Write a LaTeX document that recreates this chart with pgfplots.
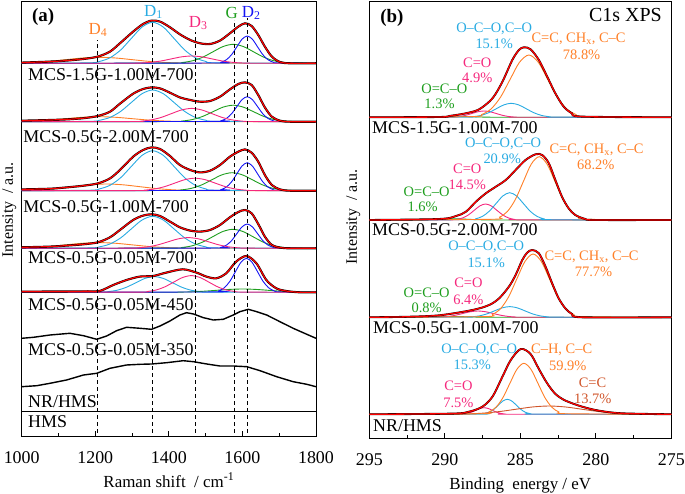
\documentclass[border=0pt]{standalone}
\usepackage{fontspec}
\setmainfont{Liberation Serif}
\usepackage{pgfplots}
\pgfplotsset{compat=1.18}
\definecolor{cCy}{HTML}{29ABE2}
\definecolor{cOr}{HTML}{FF7F27}
\definecolor{cPk}{HTML}{F5287D}
\definecolor{cGr}{HTML}{1E9E1E}
\definecolor{cBl}{HTML}{1515F5}
\definecolor{cRd}{HTML}{FF0000}
\definecolor{cBr}{HTML}{D0552A}
\newcommand{\ann}{\fontsize{14.5}{16}\selectfont}
\newcommand{\lab}{\fontsize{18}{20}\selectfont}
\pgfplotsset{
  comp/.style={smooth, line width=0.9bp, mark=none},
  fitl/.style={smooth, line width=1.2bp, cRd, mark=none, preaction={draw=black, line width=2.1bp}},
  fitb/.style={smooth, line width=1.3bp, cRd, mark=none, preaction={draw=black, line width=1.9bp}},
  raw/.style={line width=1.4bp, black, mark=none},
  vline/.style={black, line width=1bp, dash pattern=on 4bp off 3bp, mark=none},
  common/.style={scale only axis, anchor=south west, ytick=\empty, tick align=inside,
    xtick pos=bottom, major tick length=4.5bp, minor tick length=2.5bp,
    axis line style={line width=0.9bp}, every tick/.style={black, line width=0.8bp},
    /pgf/number format/assume math mode=true, /pgf/number format/set thousands separator={},
    every x tick label/.style={font=\fontsize{18}{20}\selectfont, anchor=north, inner sep=0pt, yshift=-15bp},
    every axis x label/.style={at={(axis description cs:0.5,0)}, anchor=base, yshift=-51bp, font=\fontsize{17}{20}\selectfont},
    table/row sep=\\},
}
\begin{document}
\begin{tikzpicture}
\path[use as bounding box] (0bp,0bp) rectangle (685bp,494bp);
%==================== (a) ====================
\begin{axis}[common, at={(21.7bp,58bp)}, width=294.3bp, height=435bp,
  xmin=1000, xmax=1800, ymin=0, ymax=435,
  xtick={1000,1200,1400,1600,1800}, minor xtick={1100,1300,1500,1700},
  xlabel={Raman shift\ \ / cm\textsuperscript{-1}},
  ylabel={Intensity\ \ / a.u.},
  every axis y label/.style={at={(axis description cs:0,0.52)}, xshift=-19.7bp, rotate=90, anchor=north, inner sep=0pt, font=\fontsize{16}{18}\selectfont}]
% ---- S1 (MCS-1.5G-1.00M-700)
\addplot[comp, cOr] table[y expr=\thisrow{y}+372.7] {x y\\ 940 0.07\\ 985 0.26\\ 1030 0.81\\ 1075 1.95\\ 1120 3.64\\ 1165 5.3\\ 1210 6\\ 1255 5.3\\ 1300 3.64\\ 1345 1.95\\ 1390 0.81\\ 1435 0.26\\ 1480 0.07\\ 1800 0\\};
\addplot[comp, cCy] table[y expr=\thisrow{y}+372.7] {x y\\ 1000 0\\ 1182 0.46\\ 1211 1.8\\ 1240 5.55\\ 1269 13.31\\ 1298 24.87\\ 1327 36.18\\ 1356 41\\ 1385 36.18\\ 1414 24.87\\ 1443 13.31\\ 1472 5.55\\ 1501 1.8\\ 1530 0.46\\ 1800 0\\};
\addplot[comp, cGr] table[y expr=\thisrow{y}+372.7] {x y\\ 1000 0\\ 1410 0.21\\ 1437.5 0.83\\ 1465 2.57\\ 1492.5 6.17\\ 1520 11.52\\ 1547.5 16.77\\ 1575 19\\ 1602.5 16.77\\ 1630 11.52\\ 1657.5 6.17\\ 1685 2.57\\ 1712.5 0.83\\ 1740 0.21\\ 1800 0\\};
\addplot[comp, cBl] table[y expr=\thisrow{y}+372.7] {x y\\ 1000 0\\ 1529 0.3\\ 1543 1.2\\ 1557 3.69\\ 1571 8.86\\ 1585 16.56\\ 1599 24.09\\ 1613 27.3\\ 1627 24.09\\ 1641 16.56\\ 1655 8.86\\ 1669 3.69\\ 1683 1.2\\ 1697 0.3\\ 1800 0\\};
\addplot[comp, cPk] table[y expr=\thisrow{y}+372.7] {x y\\ 1000 0\\ 1297 0.08\\ 1324.5 0.32\\ 1352 0.99\\ 1379.5 2.37\\ 1407 4.43\\ 1434.5 6.44\\ 1462 7.3\\ 1489.5 6.44\\ 1517 4.43\\ 1544.5 2.37\\ 1572 0.99\\ 1599.5 0.32\\ 1627 0.08\\ 1800 0\\};
\addplot[fitl] table[y expr=\thisrow{y}+372.7] {x y\\ 1000 0.7\\ 1077 1.7\\ 1122 2.7\\ 1168 4.3\\ 1207 6.7\\ 1240 11.7\\ 1267 20\\ 1303 31.7\\ 1330 39.3\\ 1353 42.7\\ 1376 41.7\\ 1403 36\\ 1430 29\\ 1458 23.3\\ 1485 20\\ 1512 19.3\\ 1539 22.7\\ 1566 30\\ 1589 36.7\\ 1607 40\\ 1625 37.3\\ 1643 28.3\\ 1661 16.7\\ 1680 6.7\\ 1702 1.3\\ 1729 0\\ 1800 0\\};
% ---- S2 (MCS-0.5G-2.00M-700)
\addplot[comp, cOr] table[y expr=\thisrow{y}+314.3] {x y\\ 940 0.06\\ 985 0.22\\ 1030 0.68\\ 1075 1.62\\ 1120 3.03\\ 1165 4.41\\ 1210 5\\ 1255 4.41\\ 1300 3.03\\ 1345 1.62\\ 1390 0.68\\ 1435 0.22\\ 1480 0.06\\ 1800 0\\};
\addplot[comp, cCy] table[y expr=\thisrow{y}+314.3] {x y\\ 1000 0\\ 1182 0.35\\ 1211 1.39\\ 1240 4.29\\ 1269 10.29\\ 1298 19.23\\ 1327 27.97\\ 1356 31.7\\ 1385 27.97\\ 1414 19.23\\ 1443 10.29\\ 1472 4.29\\ 1501 1.39\\ 1530 0.35\\ 1800 0\\};
\addplot[comp, cGr] table[y expr=\thisrow{y}+314.3] {x y\\ 1000 0\\ 1410 0.18\\ 1437.5 0.72\\ 1465 2.23\\ 1492.5 5.36\\ 1520 10.01\\ 1547.5 14.56\\ 1575 16.5\\ 1602.5 14.56\\ 1630 10.01\\ 1657.5 5.36\\ 1685 2.23\\ 1712.5 0.72\\ 1740 0.18\\ 1800 0\\};
\addplot[comp, cBl] table[y expr=\thisrow{y}+314.3] {x y\\ 1000 0\\ 1529 0.28\\ 1543 1.1\\ 1557 3.38\\ 1571 8.12\\ 1585 15.16\\ 1599 22.06\\ 1613 25\\ 1627 22.06\\ 1641 15.16\\ 1655 8.12\\ 1669 3.38\\ 1683 1.1\\ 1697 0.28\\ 1800 0\\};
\addplot[comp, cPk] table[y expr=\thisrow{y}+314.3] {x y\\ 1000 0\\ 1297 0.15\\ 1324.5 0.58\\ 1352 1.8\\ 1379.5 4.32\\ 1407 8.07\\ 1434.5 11.74\\ 1462 13.3\\ 1489.5 11.74\\ 1517 8.07\\ 1544.5 4.32\\ 1572 1.8\\ 1599.5 0.58\\ 1627 0.15\\ 1800 0\\};
\addplot[fitl] table[y expr=\thisrow{y}+314.3] {x y\\ 1000 1\\ 1077 1.7\\ 1122 2.3\\ 1168 3.5\\ 1207 5.7\\ 1240 10\\ 1267 18\\ 1303 28\\ 1330 32.7\\ 1353 34.3\\ 1376 33.3\\ 1403 29\\ 1430 24.3\\ 1458 21.7\\ 1485 20\\ 1512 20.7\\ 1539 25\\ 1566 32.3\\ 1589 37.7\\ 1607 39.3\\ 1625 36.7\\ 1643 26.7\\ 1661 14.3\\ 1680 5\\ 1702 1\\ 1729 0\\ 1800 0\\};
% ---- S3 (MCS-0.5G-1.00M-700)
\addplot[comp, cOr] table[y expr=\thisrow{y}+245.3] {x y\\ 960 0.07\\ 1005 0.29\\ 1050 0.91\\ 1095 2.18\\ 1140 4.06\\ 1185 5.91\\ 1230 6.7\\ 1275 5.91\\ 1320 4.06\\ 1365 2.18\\ 1410 0.91\\ 1455 0.29\\ 1500 0.07\\ 1800 0\\};
\addplot[comp, cCy] table[y expr=\thisrow{y}+245.3] {x y\\ 1000 0\\ 1182 0.44\\ 1211 1.76\\ 1240 5.41\\ 1269 12.99\\ 1298 24.26\\ 1327 35.3\\ 1356 40\\ 1385 35.3\\ 1414 24.26\\ 1443 12.99\\ 1472 5.41\\ 1501 1.76\\ 1530 0.44\\ 1800 0\\};
\addplot[comp, cGr] table[y expr=\thisrow{y}+245.3] {x y\\ 1000 0\\ 1407 0.2\\ 1434.5 0.79\\ 1462 2.44\\ 1489.5 5.84\\ 1517 10.92\\ 1544.5 15.89\\ 1572 18\\ 1599.5 15.89\\ 1627 10.92\\ 1654.5 5.84\\ 1682 2.44\\ 1709.5 0.79\\ 1737 0.2\\ 1800 0\\};
\addplot[comp, cBl] table[y expr=\thisrow{y}+245.3] {x y\\ 1000 0\\ 1529 0.31\\ 1543 1.23\\ 1557 3.79\\ 1571 9.09\\ 1585 16.98\\ 1599 24.71\\ 1613 28\\ 1627 24.71\\ 1641 16.98\\ 1655 9.09\\ 1669 3.79\\ 1683 1.23\\ 1697 0.31\\ 1800 0\\};
\addplot[comp, cPk] table[y expr=\thisrow{y}+245.3] {x y\\ 1000 0\\ 1306 0.14\\ 1333.5 0.55\\ 1361 1.69\\ 1388.5 4.06\\ 1416 7.58\\ 1443.5 11.03\\ 1471 12.5\\ 1498.5 11.03\\ 1526 7.58\\ 1553.5 4.06\\ 1581 1.69\\ 1608.5 0.55\\ 1636 0.14\\ 1800 0\\};
\addplot[fitl] table[y expr=\thisrow{y}+245.3] {x y\\ 1000 1.3\\ 1077 2\\ 1122 3.3\\ 1168 5\\ 1207 7.3\\ 1240 12.3\\ 1267 20.7\\ 1303 34\\ 1330 40.7\\ 1353 43.3\\ 1376 41.7\\ 1403 34.7\\ 1430 25.7\\ 1458 20.7\\ 1485 18.3\\ 1512 20\\ 1539 25.7\\ 1566 34\\ 1589 39\\ 1607 41.3\\ 1625 38\\ 1643 29\\ 1661 15.7\\ 1680 5.7\\ 1702 1.3\\ 1729 0\\ 1800 0\\};
% ---- S4 (MCS-0.5G-0.05M-700)
\addplot[comp, cOr] table[y expr=\thisrow{y}+187.7] {x y\\ 940 0.06\\ 985 0.25\\ 1030 0.77\\ 1075 1.85\\ 1120 3.46\\ 1165 5.03\\ 1210 5.7\\ 1255 5.03\\ 1300 3.46\\ 1345 1.85\\ 1390 0.77\\ 1435 0.25\\ 1480 0.06\\ 1800 0\\};
\addplot[comp, cCy] table[y expr=\thisrow{y}+187.7] {x y\\ 1000 0\\ 1182 0.36\\ 1211 1.4\\ 1240 4.33\\ 1269 10.39\\ 1298 19.41\\ 1327 28.24\\ 1356 32\\ 1385 28.24\\ 1414 19.41\\ 1443 10.39\\ 1472 4.33\\ 1501 1.4\\ 1530 0.36\\ 1800 0\\};
\addplot[comp, cGr] table[y expr=\thisrow{y}+187.7] {x y\\ 1000 0\\ 1409 0.21\\ 1436.5 0.83\\ 1464 2.57\\ 1491.5 6.17\\ 1519 11.52\\ 1546.5 16.77\\ 1574 19\\ 1601.5 16.77\\ 1629 11.52\\ 1656.5 6.17\\ 1684 2.57\\ 1711.5 0.83\\ 1739 0.21\\ 1800 0\\};
\addplot[comp, cBl] table[y expr=\thisrow{y}+187.7] {x y\\ 1000 0\\ 1529 0.27\\ 1543 1.07\\ 1557 3.29\\ 1571 7.89\\ 1585 14.74\\ 1599 21.44\\ 1613 24.3\\ 1627 21.44\\ 1641 14.74\\ 1655 7.89\\ 1669 3.29\\ 1683 1.07\\ 1697 0.27\\ 1800 0\\};
\addplot[comp, cPk] table[y expr=\thisrow{y}+187.7] {x y\\ 1000 0\\ 1288 0.12\\ 1315.5 0.47\\ 1343 1.45\\ 1370.5 3.47\\ 1398 6.49\\ 1425.5 9.44\\ 1453 10.7\\ 1480.5 9.44\\ 1508 6.49\\ 1535.5 3.47\\ 1563 1.45\\ 1590.5 0.47\\ 1618 0.12\\ 1800 0\\};
\addplot[fitl] table[y expr=\thisrow{y}+187.7] {x y\\ 1000 1\\ 1077 1.7\\ 1122 2.7\\ 1168 4\\ 1207 6\\ 1240 11\\ 1267 18.3\\ 1303 28.3\\ 1330 32.7\\ 1353 34\\ 1376 32.3\\ 1403 26.7\\ 1430 21\\ 1458 17.7\\ 1485 16.7\\ 1512 18.3\\ 1539 23.3\\ 1566 31\\ 1589 36.3\\ 1607 38.3\\ 1625 35\\ 1643 24.3\\ 1661 11.7\\ 1680 3.3\\ 1702 0.7\\ 1729 0\\ 1800 0\\};
% ---- S5 (MCS-0.5G-0.05M-450)
\addplot[comp, cCy] table[y expr=\thisrow{y}+143.7] {x y\\ 1000 0\\ 1210 0.17\\ 1235 0.69\\ 1260 2.12\\ 1285 5.1\\ 1310 9.52\\ 1335 13.86\\ 1360 15.7\\ 1385 13.86\\ 1410 9.52\\ 1435 5.1\\ 1460 2.12\\ 1485 0.69\\ 1510 0.17\\ 1800 0\\};
\addplot[comp, cGr] table[y expr=\thisrow{y}+143.7] {x y\\ 1000 0\\ 1390 0.04\\ 1425 0.14\\ 1460 0.45\\ 1495 1.07\\ 1530 2\\ 1565 2.91\\ 1600 3.3\\ 1635 2.91\\ 1670 2\\ 1705 1.07\\ 1740 0.45\\ 1775 0.14\\ 1800 0.05\\};
\addplot[comp, cBl] table[y expr=\thisrow{y}+143.7] {x y\\ 1000 0\\ 1521 0.38\\ 1536 1.49\\ 1551 4.6\\ 1566 11.04\\ 1581 20.62\\ 1596 30\\ 1611 34\\ 1626 30\\ 1641 20.62\\ 1656 11.04\\ 1671 4.6\\ 1686 1.49\\ 1701 0.38\\ 1800 0\\};
\addplot[comp, cPk] table[y expr=\thisrow{y}+143.7] {x y\\ 1000 0\\ 1317 0.19\\ 1341 0.73\\ 1365 2.26\\ 1389 5.42\\ 1413 10.13\\ 1437 14.74\\ 1461 16.7\\ 1485 14.74\\ 1509 10.13\\ 1533 5.42\\ 1557 2.26\\ 1581 0.73\\ 1605 0.19\\ 1800 0\\};
\addplot[fitl] table[y expr=\thisrow{y}+143.7] {x y\\ 1000 0.7\\ 1100 0.8\\ 1180 1\\ 1212 1.3\\ 1249 7.3\\ 1285 12.3\\ 1321 15.7\\ 1357 16.3\\ 1393 19.7\\ 1438 23\\ 1475 19.7\\ 1502 15.7\\ 1529 14\\ 1556 19\\ 1583 30.7\\ 1611 36.3\\ 1638 29\\ 1665 12.3\\ 1692 4\\ 1719 1.3\\ 1755 0\\ 1800 0\\};
% ---- raw spectra
\addplot[raw] table {x y\\ 1000 97.7\\ 1032 98.7\\ 1077 101\\ 1131 102.7\\ 1168 100.3\\ 1204 96.7\\ 1231 100\\ 1258 105.3\\ 1285 108.7\\ 1322 107.7\\ 1353 106.7\\ 1376 110\\ 1403 115\\ 1430 121\\ 1448 123.3\\ 1467 122\\ 1494 118.3\\ 1521 116\\ 1548 116.7\\ 1575 121\\ 1593 124.3\\ 1616 126.7\\ 1639 124.3\\ 1666 121\\ 1702 114.3\\ 1738 107.7\\ 1775 101.7\\ 1800 97.7\\};
\addplot[raw] table {x y\\ 1000 49.3\\ 1041 50.3\\ 1077 52.7\\ 1122 56\\ 1168 61\\ 1204 62.7\\ 1240 67.7\\ 1285 71\\ 1322 71.7\\ 1353 72\\ 1394 73.3\\ 1439 75.3\\ 1467 74.3\\ 1503 72\\ 1539 70\\ 1575 70\\ 1612 69.3\\ 1648 65.3\\ 1693 59.3\\ 1738 54.3\\ 1775 51.7\\ 1800 49.3\\};
\addplot[black, line width=0.9bp, mark=none] table {x y\\ 1000 25\\ 1800 25\\};
% ---- dashed guide lines
\addplot[vline] coordinates {(1207,3) (1207,396)};
\addplot[vline] coordinates {(1356,3) (1356,416)};
\addplot[vline] coordinates {(1473,3) (1473,404)};
\addplot[vline] coordinates {(1578,3) (1578,416)};
\addplot[vline] coordinates {(1613,3) (1613,418)};
% ---- text
\node[font=\fontsize{19}{20}\selectfont\bfseries] at (axis cs:1058,419) {(a)};
\node[font=\fontsize{17}{20}\selectfont, text=cOr] at (axis cs:1207,406) {D\textsubscript{4}};
\node[font=\fontsize{17}{20}\selectfont, text=cCy] at (axis cs:1358,424) {D\textsubscript{1}};
\node[font=\fontsize{17}{20}\selectfont, text=cPk] at (axis cs:1480,413) {D\textsubscript{3}};
\node[font=\fontsize{17}{20}\selectfont, text=cGr] at (axis cs:1571,423) {G};
\node[font=\fontsize{17}{20}\selectfont, text=cBl] at (axis cs:1624,423) {D\textsubscript{2}};
\node[font=\lab, anchor=west, inner sep=0pt] at (axis cs:1017,361) {MCS-1.5G-1.00M-700};
\node[font=\lab, anchor=west, inner sep=0pt] at (axis cs:1004,299) {MCS-0.5G-2.00M-700};
\node[font=\lab, anchor=west, inner sep=0pt] at (axis cs:1004,229) {MCS-0.5G-1.00M-700};
\node[font=\lab, anchor=west, inner sep=0pt] at (axis cs:1017,178) {MCS-0.5G-0.05M-700};
\node[font=\lab, anchor=west, inner sep=0pt] at (axis cs:1017,131) {MCS-0.5G-0.05M-450};
\node[font=\lab, anchor=west, inner sep=0pt] at (axis cs:1017,86) {MCS-0.5G-0.05M-350};
\node[font=\lab, anchor=west, inner sep=0pt] at (axis cs:1017,34) {NR/HMS};
\node[font=\lab, anchor=west, inner sep=0pt] at (axis cs:1017,14) {HMS};
\end{axis}
%==================== (b) ====================
\begin{axis}[common, at={(369.3bp,56bp)}, width=302bp, height=437bp,
  xmin=275, xmax=295, x dir=reverse, ymin=0, ymax=437,
  xtick={275,280,285,290,295}, minor xtick={277.5,282.5,287.5,292.5},
  xlabel={Binding\ \ energy / eV},
  ylabel={Intensity\ \ / a.u.},
  every axis y label/.style={at={(axis description cs:0,0.506)}, xshift=-23.3bp, rotate=90, anchor=north, inner sep=0pt, font=\fontsize{16}{18}\selectfont}]
% ---- b1
\addplot[comp, cGr] table[y expr=\thisrow{y}+320.7] {x y\\ 275 0\\ 286.2 0.01\\ 286.7 0.04\\ 287.2 0.14\\ 287.7 0.32\\ 288.2 0.61\\ 288.7 0.88\\ 289.2 1\\ 289.7 0.88\\ 290.2 0.61\\ 290.7 0.32\\ 291.2 0.14\\ 291.7 0.04\\ 292.2 0.01\\ 295 0\\};
\addplot[comp, cPk] table[y expr=\thisrow{y}+320.7] {x y\\ 275 0\\ 285.0 0.07\\ 285.4 0.28\\ 285.8 0.85\\ 286.2 2.05\\ 286.6 3.82\\ 287.0 5.56\\ 287.4 6.3\\ 287.8 5.56\\ 288.2 3.82\\ 288.6 2.05\\ 289.0 0.85\\ 289.4 0.28\\ 289.8 0.07\\ 295 0\\};
\addplot[comp, cCy] table[y expr=\thisrow{y}+320.7] {x y\\ 275 0\\ 282.6 0.16\\ 283.1 0.61\\ 283.6 1.89\\ 284.1 4.55\\ 284.6 8.49\\ 285.1 12.36\\ 285.6 14\\ 286.1 12.36\\ 286.6 8.49\\ 287.1 4.55\\ 287.6 1.89\\ 288.1 0.61\\ 288.6 0.16\\ 295 0\\};
\addplot[comp, cOr] table[y expr=\thisrow{y}+320.7] {x y\\ 275 0\\ 280.68 0.69\\ 281.305 2.73\\ 281.93 8.43\\ 282.555 20.23\\ 283.18 37.78\\ 283.805 54.98\\ 284.43 62.3\\ 285.055 54.98\\ 285.68 37.78\\ 286.305 20.23\\ 286.93 8.43\\ 287.555 2.73\\ 288.18 0.69\\ 295 0\\};
\addplot[fitb] table[y expr=\thisrow{y}+320.7] {x y\\ 275 0\\ 280.92 0.7\\ 281.58 4\\ 282.13 10.7\\ 282.68 24\\ 283.22 40.7\\ 283.77 57.3\\ 284.32 68\\ 284.76 70\\ 285.09 67.3\\ 285.53 57.3\\ 286.18 35.7\\ 286.84 19\\ 287.72 8\\ 288.6 4\\ 289.69 1.3\\ 290.35 0.3\\ 295 0\\};
% ---- b2
\addplot[comp, cGr] table[y expr=\thisrow{y}+218] {x y\\ 275 0\\ 286.5 0.01\\ 287 0.05\\ 287.5 0.16\\ 288 0.39\\ 288.5 0.73\\ 289 1.06\\ 289.5 1.2\\ 290 1.06\\ 290.5 0.73\\ 291 0.39\\ 291.5 0.16\\ 292 0.05\\ 292.5 0.01\\ 295 0\\};
\addplot[comp, cPk] table[y expr=\thisrow{y}+218] {x y\\ 275 0\\ 285.05 0.18\\ 285.425 0.7\\ 285.8 2.16\\ 286.175 5.2\\ 286.55 9.7\\ 286.925 14.12\\ 287.3 16\\ 287.675 14.12\\ 288.05 9.7\\ 288.425 5.2\\ 288.8 2.16\\ 289.175 0.7\\ 289.55 0.18\\ 295 0\\};
\addplot[comp, cCy] table[y expr=\thisrow{y}+218] {x y\\ 275 0\\ 283 0.3\\ 283.45 1.2\\ 283.9 3.69\\ 284.35 8.86\\ 284.8 16.56\\ 285.25 24.09\\ 285.7 27.3\\ 286.15 24.09\\ 286.6 16.56\\ 287.05 8.86\\ 287.5 3.69\\ 287.95 1.2\\ 288.4 0.3\\ 295 0\\};
\addplot[comp, cOr] table[y expr=\thisrow{y}+218] {x y\\ 275 0\\ 280.6 0.7\\ 281.125 2.78\\ 281.65 8.56\\ 282.175 20.55\\ 282.7 38.39\\ 283.225 55.86\\ 283.75 63.3\\ 284.275 55.86\\ 284.8 38.39\\ 285.325 20.55\\ 285.85 8.56\\ 286.375 2.78\\ 286.9 0.7\\ 295 0\\};
\addplot[fitb] table[y expr=\thisrow{y}+218] {x y\\ 275 0\\ 280.04 0\\ 280.7 1\\ 281.36 5\\ 281.8 11.7\\ 282.24 23.3\\ 282.68 40\\ 283.11 56.7\\ 283.55 65\\ 283.99 65.7\\ 284.65 60\\ 285.31 50\\ 285.96 40\\ 286.62 33.3\\ 287.28 26.7\\ 287.94 18.3\\ 288.6 8.3\\ 289.25 4\\ 290.35 1\\ 295 0\\};
% ---- b3
\addplot[comp, cGr] table[y expr=\thisrow{y}+120.7] {x y\\ 275 0\\ 287 0.04\\ 287.5 0.11\\ 288 0.26\\ 288.5 0.49\\ 289 0.71\\ 289.5 0.8\\ 290 0.71\\ 290.5 0.49\\ 291 0.26\\ 291.5 0.11\\ 292 0.04\\ 295 0\\};
\addplot[comp, cPk] table[y expr=\thisrow{y}+120.7] {x y\\ 275 0\\ 284.8 0.07\\ 285.3 0.28\\ 285.8 0.85\\ 286.3 2.05\\ 286.8 3.82\\ 287.3 5.56\\ 287.8 6.3\\ 288.3 5.56\\ 288.8 3.82\\ 289.3 2.05\\ 289.8 0.85\\ 290.3 0.28\\ 290.8 0.07\\ 295 0\\};
\addplot[comp, cCy] table[y expr=\thisrow{y}+120.7] {x y\\ 275 0\\ 282.7 0.12\\ 283.2 0.47\\ 283.7 1.45\\ 284.2 3.47\\ 284.7 6.49\\ 285.2 9.44\\ 285.7 10.7\\ 286.2 9.44\\ 286.7 6.49\\ 287.2 3.47\\ 287.7 1.45\\ 288.2 0.47\\ 288.7 0.12\\ 295 0\\};
\addplot[comp, cOr] table[y expr=\thisrow{y}+120.7] {x y\\ 275 0\\ 280.91 0.7\\ 281.45 2.78\\ 281.99 8.56\\ 282.53 20.55\\ 283.07 38.39\\ 283.61 55.86\\ 284.15 63.3\\ 284.69 55.86\\ 285.23 38.39\\ 285.77 20.55\\ 286.31 8.56\\ 286.85 2.78\\ 287.39 0.7\\ 295 0\\};
\addplot[fitb] table[y expr=\thisrow{y}+120.7] {x y\\ 275 0\\ 280.92 0\\ 281.58 3.3\\ 282.02 9\\ 282.46 19\\ 282.89 34\\ 283.33 50.7\\ 283.77 64\\ 284.21 67.3\\ 284.54 64.7\\ 284.87 57.3\\ 285.31 42.3\\ 285.75 30.7\\ 286.4 19\\ 287.06 12.3\\ 288.16 7.3\\ 290.35 2\\ 292.54 0.5\\ 295 0\\};
% ---- b4
\addplot[comp, cPk] table[y expr=\thisrow{y}+23.7] {x y\\ 275 0\\ 285.75 0.07\\ 286.025 0.29\\ 286.3 0.89\\ 286.575 2.14\\ 286.85 4\\ 287.125 5.82\\ 287.4 6.6\\ 287.675 5.82\\ 287.95 4\\ 288.225 2.14\\ 288.5 0.89\\ 288.775 0.29\\ 289.05 0.07\\ 295 0\\};
\addplot[comp, cCy] table[y expr=\thisrow{y}+23.7] {x y\\ 275 0\\ 284.06 0.17\\ 284.36 0.66\\ 284.66 2.03\\ 284.96 4.87\\ 285.26 9.1\\ 285.56 13.24\\ 285.86 15\\ 286.16 13.24\\ 286.46 9.1\\ 286.76 4.87\\ 287.06 2.03\\ 287.36 0.66\\ 287.66 0.17\\ 295 0\\};
\addplot[comp, cBr] table[y expr=\thisrow{y}+23.7] {x y\\ 275 0\\ 276.5 0.09\\ 277.6 0.36\\ 278.7 1.12\\ 279.8 2.7\\ 280.9 5.03\\ 282.0 7.32\\ 283.1 8.3\\ 284.2 7.32\\ 285.3 5.03\\ 286.4 2.7\\ 287.5 1.12\\ 288.6 0.36\\ 289.7 0.09\\ 295 0\\};
\addplot[comp, cOr] table[y expr=\thisrow{y}+23.7] {x y\\ 275 0\\ 281.97 0.57\\ 282.435 2.24\\ 282.9 6.9\\ 283.365 16.56\\ 283.83 30.93\\ 284.295 45.01\\ 284.76 51\\ 285.225 45.01\\ 285.69 30.93\\ 286.155 16.56\\ 286.62 6.9\\ 287.085 2.24\\ 287.55 0.57\\ 295 0\\};
\addplot[fitb] table[y expr=\thisrow{y}+23.7] {x y\\ 275 0\\ 278.29 1\\ 279.82 3.7\\ 280.92 7.7\\ 282.01 13.7\\ 282.67 20.3\\ 283.22 31\\ 283.77 45.3\\ 284.32 60.3\\ 284.97 65.3\\ 285.63 54.3\\ 286.18 37.7\\ 286.84 17.7\\ 287.5 7.7\\ 288.37 2.7\\ 289.5 0.7\\ 295 0\\};
% ---- text
\node[font=\fontsize{19}{20}\selectfont\bfseries] at (axis cs:293.5,420) {(b)};
\node[font=\fontsize{20}{22}\selectfont, anchor=east] at (axis cs:275.4,423) {C1s XPS};
\node[font=\lab, anchor=west, inner sep=0pt] at (axis cs:294.82,310) {MCS-1.5G-1.00M-700};
\node[font=\lab, anchor=west, inner sep=0pt] at (axis cs:294.82,208) {MCS-0.5G-2.00M-700};
\node[font=\lab, anchor=west, inner sep=0pt] at (axis cs:294.76,110) {MCS-0.5G-1.00M-700};
\node[font=\lab, anchor=west, inner sep=0pt] at (axis cs:294.76,12) {NR/HMS};
% b1
\node[font=\ann, text=cCy] at (axis cs:286.73,409) {O–C–O,C–O};
\node[font=\ann, text=cCy] at (axis cs:286.73,394) {15.1\%};
\node[font=\ann, text=cOr] at (axis cs:281.14,399) {C=C,\ CH\textsubscript{x},\ C–C};
\node[font=\ann, text=cOr] at (axis cs:280.94,383) {78.8\%};
\node[font=\ann, text=cPk] at (axis cs:287.85,375) {C=O};
\node[font=\ann, text=cPk] at (axis cs:287.85,360) {4.9\%};
\node[font=\ann, text=cGr] at (axis cs:290.03,349) {O=C–O};
\node[font=\ann, text=cGr] at (axis cs:290.35,334) {1.3\%};
% b2
\node[font=\ann, text=cCy] at (axis cs:286.14,294) {O–C–O,C–O};
\node[font=\ann, text=cCy] at (axis cs:286.2,279) {20.9\%};
\node[font=\ann, text=cOr] at (axis cs:279.95,288) {C=C,\ CH\textsubscript{x},\ C–C};
\node[font=\ann, text=cOr] at (axis cs:280.0,273) {68.2\%};
\node[font=\ann, text=cPk] at (axis cs:288.51,269) {C=O};
\node[font=\ann, text=cPk] at (axis cs:288.51,253) {14.5\%};
\node[font=\ann, text=cGr] at (axis cs:291.2,246) {O=C–O};
\node[font=\ann, text=cGr] at (axis cs:291.47,231) {1.6\%};
% b3
\node[font=\ann, text=cCy] at (axis cs:287.26,191) {O–C–O,C–O};
\node[font=\ann, text=cCy] at (axis cs:287.26,175) {15.1\%};
\node[font=\ann, text=cOr] at (axis cs:280.28,181) {C=C,\ CH\textsubscript{x},\ C–C};
\node[font=\ann, text=cOr] at (axis cs:280.15,166) {77.7\%};
\node[font=\ann, text=cPk] at (axis cs:288.44,155) {C=O};
\node[font=\ann, text=cPk] at (axis cs:288.44,138) {6.4\%};
\node[font=\ann, text=cGr] at (axis cs:291.2,145) {O=C–O};
\node[font=\ann, text=cGr] at (axis cs:291.2,130) {0.8\%};
% b4
\node[font=\ann, text=cCy] at (axis cs:287.72,88) {O–C–O,C–O};
\node[font=\ann, text=cCy] at (axis cs:288.18,73) {15.3\%};
\node[font=\ann, text=cOr] at (axis cs:282.26,88) {C–H, C–C};
\node[font=\ann, text=cOr] at (axis cs:281.86,72) {59.9\%};
\node[font=\ann, text=cBr] at (axis cs:280.22,55) {C=C};
\node[font=\ann, text=cBr] at (axis cs:280.2,39) {13.7\%};
\node[font=\ann, text=cPk] at (axis cs:289.1,52) {C=O};
\node[font=\ann, text=cPk] at (axis cs:289.1,35) {7.5\%};
\end{axis}
\end{tikzpicture}
\end{document}
